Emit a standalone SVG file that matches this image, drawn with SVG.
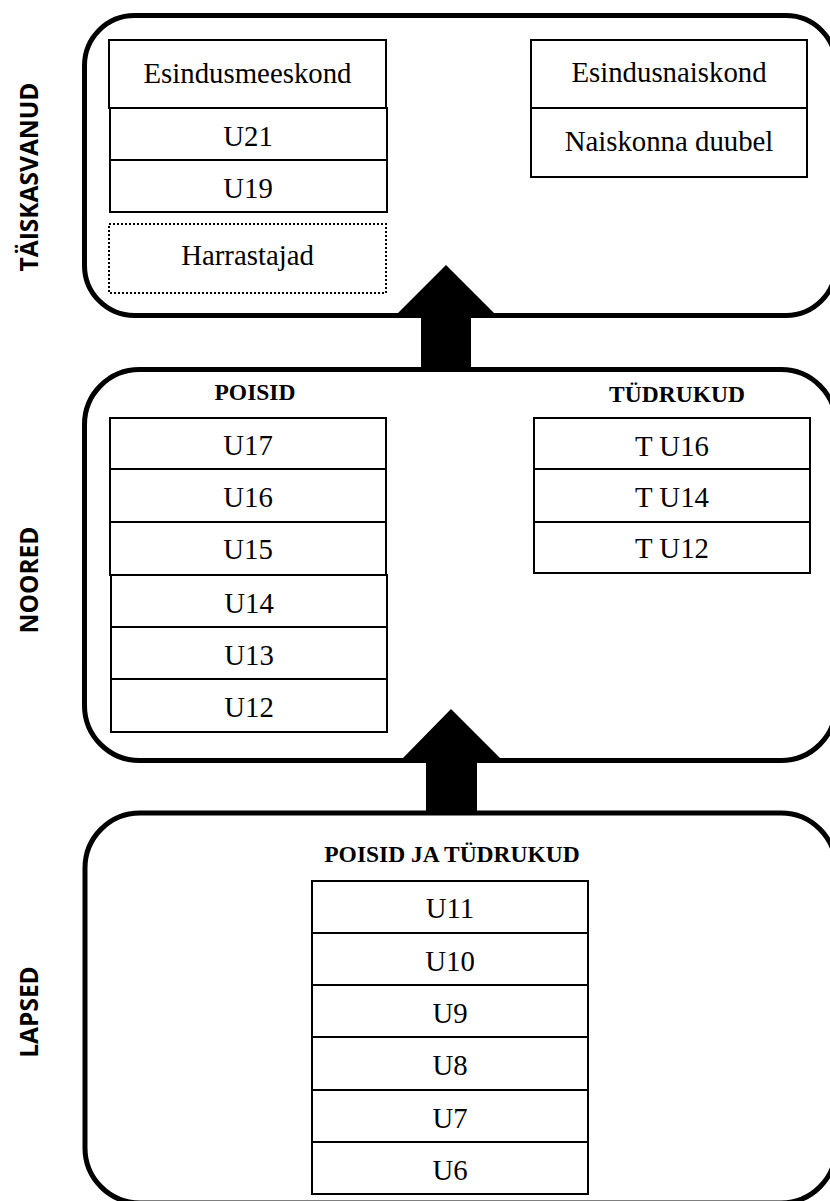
<svg xmlns="http://www.w3.org/2000/svg" width="830" height="1201" viewBox="0 0 830 1201">
<style>
.bg{fill:#fff}
.cont{fill:#fff;stroke:#000;stroke-width:5}
.box{fill:#fff;stroke:#000;stroke-width:2}
.dot{fill:#fff;stroke:#000;stroke-width:2;stroke-dasharray:2 2}
.t{font-family:"Liberation Serif","Times New Roman",serif;font-size:28.8px;fill:#000;text-anchor:middle}
.h{font-family:"Liberation Serif","Times New Roman",serif;font-size:23.5px;font-weight:bold;fill:#000;text-anchor:middle}
.side{font-family:"Open Sans","DejaVu Sans",sans-serif;font-size:24.5px;font-weight:bold;fill:#000;text-anchor:middle}
.arrow{fill:#000;stroke:none}
</style>
<rect class="bg" x="0" y="0" width="830" height="1201"/>

<g id="container-taiskasvanud">
<rect class="cont" x="84.5" y="15.5" width="751.5" height="300" rx="50" ry="50"/>
<text class="side" transform="translate(38,177) rotate(-90)">TÄISKASVANUD</text>
</g>
<g id="container-noored">
<rect class="cont" x="84.5" y="369.5" width="751.5" height="391" rx="55" ry="55"/>
<text class="side" transform="translate(38,580) rotate(-90)">NOORED</text>
<text class="h" x="255" y="400">POISID</text>
<text class="h" x="677" y="402">TÜDRUKUD</text>
</g>
<g id="container-lapsed">
<rect class="cont" x="85" y="813" width="751" height="390" rx="55" ry="55"/>
<text class="side" transform="translate(38,1012) rotate(-90)">LAPSED</text>
<text class="h" x="452" y="862">POISID JA TÜDRUKUD</text>
</g>

<g id="connectors">
<polygon class="arrow" points="446,265 495,314 471,314 471,369 421,369 421,314 397,314"/>
<polygon class="arrow" points="451,709 501,759 477,759 477,813 426,813 426,759 402,759"/>
</g>

<g id="esindusmeeskond"><rect class="box" x="109" y="40" width="277" height="68"/><text class="t" x="247.5" y="83">Esindusmeeskond</text></g>
<g id="u21"><rect class="box" x="110" y="108" width="277" height="52"/><text class="t" x="248" y="146">U21</text></g>
<g id="u19"><rect class="box" x="110" y="160" width="277" height="52"/><text class="t" x="248" y="198">U19</text></g>
<g id="harrastajad"><rect class="dot" x="109" y="224" width="277" height="69"/><text class="t" x="247.5" y="265">Harrastajad</text></g>

<g id="esindusnaiskond"><rect class="box" x="531" y="40" width="276" height="68"/><text class="t" x="669" y="82">Esindusnaiskond</text></g>
<g id="naiskonna-duubel"><rect class="box" x="531" y="108" width="276" height="69"/><text class="t" x="669" y="151">Naiskonna duubel</text></g>

<g id="u17"><rect class="box" x="110" y="418" width="276" height="51"/><text class="t" x="248" y="455">U17</text></g>
<g id="u16"><rect class="box" x="110" y="469" width="276" height="53"/><text class="t" x="248" y="507">U16</text></g>
<g id="u15"><rect class="box" x="110" y="522" width="276" height="53"/><text class="t" x="248" y="559">U15</text></g>
<g id="u14"><rect class="box" x="111" y="575" width="276" height="52"/><text class="t" x="249" y="613">U14</text></g>
<g id="u13"><rect class="box" x="111" y="627" width="276" height="52"/><text class="t" x="249" y="665">U13</text></g>
<g id="u12"><rect class="box" x="111" y="679" width="276" height="53"/><text class="t" x="249" y="717">U12</text></g>

<g id="t-u16"><rect class="box" x="534" y="418" width="276" height="51"/><text class="t" x="672" y="456">T U16</text></g>
<g id="t-u14"><rect class="box" x="534" y="469" width="276" height="53"/><text class="t" x="672" y="507">T U14</text></g>
<g id="t-u12"><rect class="box" x="534" y="522" width="276" height="51"/><text class="t" x="672" y="558">T U12</text></g>

<g id="u11"><rect class="box" x="312" y="881" width="276" height="52"/><text class="t" x="450" y="918">U11</text></g>
<g id="u10"><rect class="box" x="312" y="933" width="276" height="52"/><text class="t" x="450" y="971">U10</text></g>
<g id="u9"><rect class="box" x="312" y="985" width="276" height="52"/><text class="t" x="450" y="1023">U9</text></g>
<g id="u8"><rect class="box" x="312" y="1037" width="276" height="53"/><text class="t" x="450" y="1075">U8</text></g>
<g id="u7"><rect class="box" x="312" y="1090" width="276" height="52"/><text class="t" x="450" y="1128">U7</text></g>
<g id="u6"><rect class="box" x="312" y="1142" width="276" height="52"/><text class="t" x="450" y="1180">U6</text></g>
</svg>
